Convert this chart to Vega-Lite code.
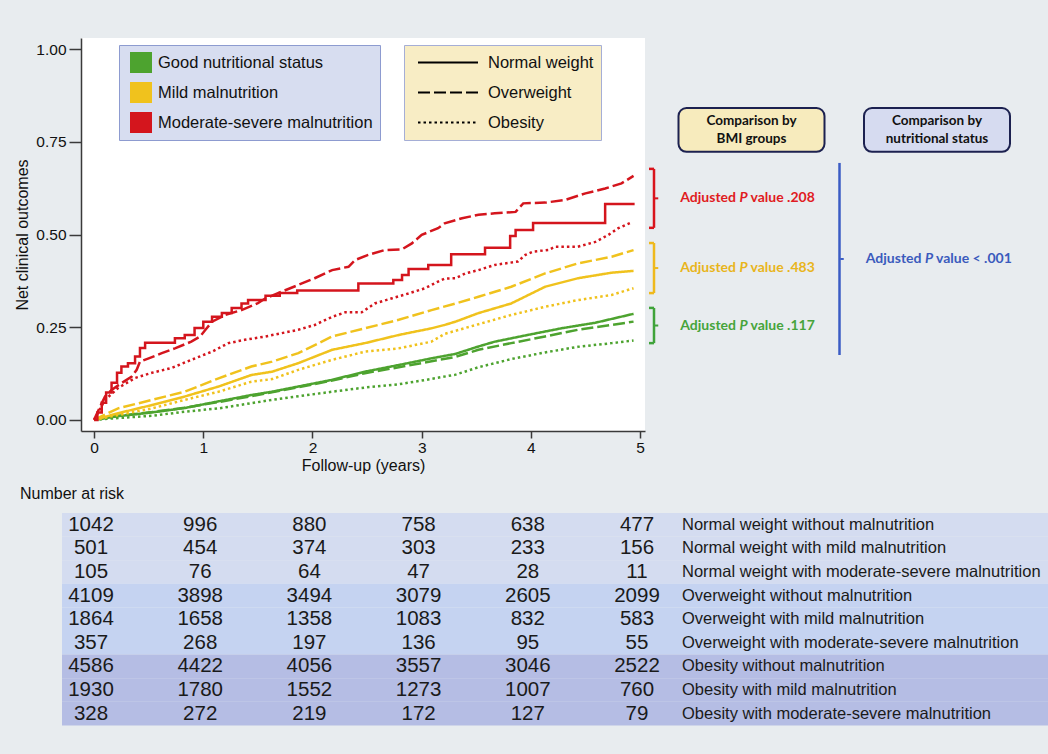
{
  "$schema": "https://vega.github.io/schema/vega-lite/v6.json",
  "background": "#e8ecef",
  "padding": {"left": 14, "top": 38, "right": 0, "bottom": 29},
  "autosize": {"type": "pad"},
  "config": {
    "view": {"stroke": null},
    "font": "Liberation Sans",
    "axis": {"domainColor": "#3a3a3a", "tickColor": "#3a3a3a", "labelColor": "#111", "titleColor": "#111", "grid": false, "domainWidth": 1.5, "tickWidth": 1.5, "labelFont": "Liberation Sans", "titleFont": "Liberation Sans", "labelFontSize": 15.5, "titleFontSize": 16, "titleFontWeight": "normal"}
  },
  "datasets": {
    "curves": [
      {"bmi":"Normal weight","nutrition":"Good nutritional status","t":0,"v":0},
      {"bmi":"Normal weight","nutrition":"Good nutritional status","t":0.22,"v":0.01},
      {"bmi":"Normal weight","nutrition":"Good nutritional status","t":0.53,"v":0.02},
      {"bmi":"Normal weight","nutrition":"Good nutritional status","t":0.83,"v":0.032},
      {"bmi":"Normal weight","nutrition":"Good nutritional status","t":1.14,"v":0.05},
      {"bmi":"Normal weight","nutrition":"Good nutritional status","t":1.44,"v":0.067},
      {"bmi":"Normal weight","nutrition":"Good nutritional status","t":1.63,"v":0.076},
      {"bmi":"Normal weight","nutrition":"Good nutritional status","t":1.87,"v":0.09},
      {"bmi":"Normal weight","nutrition":"Good nutritional status","t":2.18,"v":0.108},
      {"bmi":"Normal weight","nutrition":"Good nutritional status","t":2.48,"v":0.13},
      {"bmi":"Normal weight","nutrition":"Good nutritional status","t":2.79,"v":0.148},
      {"bmi":"Normal weight","nutrition":"Good nutritional status","t":3.09,"v":0.166},
      {"bmi":"Normal weight","nutrition":"Good nutritional status","t":3.31,"v":0.178},
      {"bmi":"Normal weight","nutrition":"Good nutritional status","t":3.52,"v":0.198},
      {"bmi":"Normal weight","nutrition":"Good nutritional status","t":3.67,"v":0.211},
      {"bmi":"Normal weight","nutrition":"Good nutritional status","t":3.97,"v":0.229},
      {"bmi":"Normal weight","nutrition":"Good nutritional status","t":4.28,"v":0.247},
      {"bmi":"Normal weight","nutrition":"Good nutritional status","t":4.59,"v":0.262},
      {"bmi":"Normal weight","nutrition":"Good nutritional status","t":4.94,"v":0.286},

      {"bmi":"Overweight","nutrition":"Good nutritional status","t":0,"v":0},
      {"bmi":"Overweight","nutrition":"Good nutritional status","t":0.22,"v":0.011},
      {"bmi":"Overweight","nutrition":"Good nutritional status","t":0.53,"v":0.021},
      {"bmi":"Overweight","nutrition":"Good nutritional status","t":0.83,"v":0.033},
      {"bmi":"Overweight","nutrition":"Good nutritional status","t":1.14,"v":0.048},
      {"bmi":"Overweight","nutrition":"Good nutritional status","t":1.44,"v":0.064},
      {"bmi":"Overweight","nutrition":"Good nutritional status","t":1.87,"v":0.088},
      {"bmi":"Overweight","nutrition":"Good nutritional status","t":2.18,"v":0.106},
      {"bmi":"Overweight","nutrition":"Good nutritional status","t":2.48,"v":0.126},
      {"bmi":"Overweight","nutrition":"Good nutritional status","t":2.79,"v":0.142},
      {"bmi":"Overweight","nutrition":"Good nutritional status","t":3.09,"v":0.158},
      {"bmi":"Overweight","nutrition":"Good nutritional status","t":3.31,"v":0.17},
      {"bmi":"Overweight","nutrition":"Good nutritional status","t":3.52,"v":0.189},
      {"bmi":"Overweight","nutrition":"Good nutritional status","t":3.82,"v":0.207},
      {"bmi":"Overweight","nutrition":"Good nutritional status","t":4.13,"v":0.225},
      {"bmi":"Overweight","nutrition":"Good nutritional status","t":4.43,"v":0.243},
      {"bmi":"Overweight","nutrition":"Good nutritional status","t":4.74,"v":0.256},
      {"bmi":"Overweight","nutrition":"Good nutritional status","t":4.94,"v":0.265},

      {"bmi":"Obesity","nutrition":"Good nutritional status","t":0,"v":0},
      {"bmi":"Obesity","nutrition":"Good nutritional status","t":0.22,"v":0.005},
      {"bmi":"Obesity","nutrition":"Good nutritional status","t":0.53,"v":0.011},
      {"bmi":"Obesity","nutrition":"Good nutritional status","t":0.83,"v":0.022},
      {"bmi":"Obesity","nutrition":"Good nutritional status","t":1.14,"v":0.031},
      {"bmi":"Obesity","nutrition":"Good nutritional status","t":1.44,"v":0.045},
      {"bmi":"Obesity","nutrition":"Good nutritional status","t":1.63,"v":0.054},
      {"bmi":"Obesity","nutrition":"Good nutritional status","t":2.18,"v":0.076},
      {"bmi":"Obesity","nutrition":"Good nutritional status","t":2.5,"v":0.088},
      {"bmi":"Obesity","nutrition":"Good nutritional status","t":2.79,"v":0.096},
      {"bmi":"Obesity","nutrition":"Good nutritional status","t":3.0,"v":0.106},
      {"bmi":"Obesity","nutrition":"Good nutritional status","t":3.31,"v":0.122},
      {"bmi":"Obesity","nutrition":"Good nutritional status","t":3.52,"v":0.142},
      {"bmi":"Obesity","nutrition":"Good nutritional status","t":3.82,"v":0.164},
      {"bmi":"Obesity","nutrition":"Good nutritional status","t":4.13,"v":0.182},
      {"bmi":"Obesity","nutrition":"Good nutritional status","t":4.43,"v":0.197},
      {"bmi":"Obesity","nutrition":"Good nutritional status","t":4.74,"v":0.207},
      {"bmi":"Obesity","nutrition":"Good nutritional status","t":4.94,"v":0.214},

      {"bmi":"Normal weight","nutrition":"Mild malnutrition","t":0,"v":0},
      {"bmi":"Normal weight","nutrition":"Mild malnutrition","t":0.22,"v":0.018},
      {"bmi":"Normal weight","nutrition":"Mild malnutrition","t":0.53,"v":0.04},
      {"bmi":"Normal weight","nutrition":"Mild malnutrition","t":0.83,"v":0.063},
      {"bmi":"Normal weight","nutrition":"Mild malnutrition","t":1.14,"v":0.09},
      {"bmi":"Normal weight","nutrition":"Mild malnutrition","t":1.44,"v":0.121},
      {"bmi":"Normal weight","nutrition":"Mild malnutrition","t":1.63,"v":0.13},
      {"bmi":"Normal weight","nutrition":"Mild malnutrition","t":1.87,"v":0.153},
      {"bmi":"Normal weight","nutrition":"Mild malnutrition","t":2.18,"v":0.189},
      {"bmi":"Normal weight","nutrition":"Mild malnutrition","t":2.48,"v":0.207},
      {"bmi":"Normal weight","nutrition":"Mild malnutrition","t":2.79,"v":0.229},
      {"bmi":"Normal weight","nutrition":"Mild malnutrition","t":3.09,"v":0.247},
      {"bmi":"Normal weight","nutrition":"Mild malnutrition","t":3.21,"v":0.256},
      {"bmi":"Normal weight","nutrition":"Mild malnutrition","t":3.31,"v":0.265},
      {"bmi":"Normal weight","nutrition":"Mild malnutrition","t":3.52,"v":0.288},
      {"bmi":"Normal weight","nutrition":"Mild malnutrition","t":3.82,"v":0.314},
      {"bmi":"Normal weight","nutrition":"Mild malnutrition","t":4.13,"v":0.359},
      {"bmi":"Normal weight","nutrition":"Mild malnutrition","t":4.43,"v":0.382},
      {"bmi":"Normal weight","nutrition":"Mild malnutrition","t":4.74,"v":0.397},
      {"bmi":"Normal weight","nutrition":"Mild malnutrition","t":4.94,"v":0.402},

      {"bmi":"Overweight","nutrition":"Mild malnutrition","t":0,"v":0},
      {"bmi":"Overweight","nutrition":"Mild malnutrition","t":0.22,"v":0.031},
      {"bmi":"Overweight","nutrition":"Mild malnutrition","t":0.53,"v":0.054},
      {"bmi":"Overweight","nutrition":"Mild malnutrition","t":0.83,"v":0.076},
      {"bmi":"Overweight","nutrition":"Mild malnutrition","t":1.14,"v":0.112},
      {"bmi":"Overweight","nutrition":"Mild malnutrition","t":1.44,"v":0.144},
      {"bmi":"Overweight","nutrition":"Mild malnutrition","t":1.63,"v":0.157},
      {"bmi":"Overweight","nutrition":"Mild malnutrition","t":1.87,"v":0.18},
      {"bmi":"Overweight","nutrition":"Mild malnutrition","t":2.18,"v":0.225},
      {"bmi":"Overweight","nutrition":"Mild malnutrition","t":2.48,"v":0.247},
      {"bmi":"Overweight","nutrition":"Mild malnutrition","t":2.79,"v":0.27},
      {"bmi":"Overweight","nutrition":"Mild malnutrition","t":3.09,"v":0.296},
      {"bmi":"Overweight","nutrition":"Mild malnutrition","t":3.31,"v":0.314},
      {"bmi":"Overweight","nutrition":"Mild malnutrition","t":3.52,"v":0.332},
      {"bmi":"Overweight","nutrition":"Mild malnutrition","t":3.82,"v":0.359},
      {"bmi":"Overweight","nutrition":"Mild malnutrition","t":4.13,"v":0.395},
      {"bmi":"Overweight","nutrition":"Mild malnutrition","t":4.43,"v":0.422},
      {"bmi":"Overweight","nutrition":"Mild malnutrition","t":4.74,"v":0.44},
      {"bmi":"Overweight","nutrition":"Mild malnutrition","t":4.94,"v":0.458},

      {"bmi":"Obesity","nutrition":"Mild malnutrition","t":0,"v":0},
      {"bmi":"Obesity","nutrition":"Mild malnutrition","t":0.22,"v":0.013},
      {"bmi":"Obesity","nutrition":"Mild malnutrition","t":0.53,"v":0.031},
      {"bmi":"Obesity","nutrition":"Mild malnutrition","t":0.83,"v":0.054},
      {"bmi":"Obesity","nutrition":"Mild malnutrition","t":1.14,"v":0.076},
      {"bmi":"Obesity","nutrition":"Mild malnutrition","t":1.44,"v":0.103},
      {"bmi":"Obesity","nutrition":"Mild malnutrition","t":1.63,"v":0.11},
      {"bmi":"Obesity","nutrition":"Mild malnutrition","t":1.87,"v":0.135},
      {"bmi":"Obesity","nutrition":"Mild malnutrition","t":2.18,"v":0.162},
      {"bmi":"Obesity","nutrition":"Mild malnutrition","t":2.48,"v":0.184},
      {"bmi":"Obesity","nutrition":"Mild malnutrition","t":2.79,"v":0.193},
      {"bmi":"Obesity","nutrition":"Mild malnutrition","t":3.09,"v":0.211},
      {"bmi":"Obesity","nutrition":"Mild malnutrition","t":3.21,"v":0.232},
      {"bmi":"Obesity","nutrition":"Mild malnutrition","t":3.52,"v":0.258},
      {"bmi":"Obesity","nutrition":"Mild malnutrition","t":3.82,"v":0.283},
      {"bmi":"Obesity","nutrition":"Mild malnutrition","t":4.13,"v":0.305},
      {"bmi":"Obesity","nutrition":"Mild malnutrition","t":4.43,"v":0.323},
      {"bmi":"Obesity","nutrition":"Mild malnutrition","t":4.74,"v":0.337},
      {"bmi":"Obesity","nutrition":"Mild malnutrition","t":4.94,"v":0.355},

      {"bmi":"Overweight","nutrition":"Moderate-severe malnutrition","t":0,"v":0},
      {"bmi":"Overweight","nutrition":"Moderate-severe malnutrition","t":0.055,"v":0.036},
      {"bmi":"Overweight","nutrition":"Moderate-severe malnutrition","t":0.1,"v":0.063},
      {"bmi":"Overweight","nutrition":"Moderate-severe malnutrition","t":0.16,"v":0.081},
      {"bmi":"Overweight","nutrition":"Moderate-severe malnutrition","t":0.25,"v":0.099},
      {"bmi":"Overweight","nutrition":"Moderate-severe malnutrition","t":0.345,"v":0.117},
      {"bmi":"Overweight","nutrition":"Moderate-severe malnutrition","t":0.39,"v":0.135},
      {"bmi":"Overweight","nutrition":"Moderate-severe malnutrition","t":0.42,"v":0.157},
      {"bmi":"Overweight","nutrition":"Moderate-severe malnutrition","t":0.5,"v":0.166},
      {"bmi":"Overweight","nutrition":"Moderate-severe malnutrition","t":0.62,"v":0.18},
      {"bmi":"Overweight","nutrition":"Moderate-severe malnutrition","t":0.74,"v":0.193},
      {"bmi":"Overweight","nutrition":"Moderate-severe malnutrition","t":0.89,"v":0.211},
      {"bmi":"Overweight","nutrition":"Moderate-severe malnutrition","t":0.97,"v":0.225},
      {"bmi":"Overweight","nutrition":"Moderate-severe malnutrition","t":1.02,"v":0.243},
      {"bmi":"Overweight","nutrition":"Moderate-severe malnutrition","t":1.08,"v":0.265},
      {"bmi":"Overweight","nutrition":"Moderate-severe malnutrition","t":1.2,"v":0.283},
      {"bmi":"Overweight","nutrition":"Moderate-severe malnutrition","t":1.35,"v":0.296},
      {"bmi":"Overweight","nutrition":"Moderate-severe malnutrition","t":1.5,"v":0.315},
      {"bmi":"Overweight","nutrition":"Moderate-severe malnutrition","t":1.57,"v":0.328},
      {"bmi":"Overweight","nutrition":"Moderate-severe malnutrition","t":1.72,"v":0.346},
      {"bmi":"Overweight","nutrition":"Moderate-severe malnutrition","t":1.87,"v":0.364},
      {"bmi":"Overweight","nutrition":"Moderate-severe malnutrition","t":2.02,"v":0.382},
      {"bmi":"Overweight","nutrition":"Moderate-severe malnutrition","t":2.18,"v":0.404},
      {"bmi":"Overweight","nutrition":"Moderate-severe malnutrition","t":2.33,"v":0.413},
      {"bmi":"Overweight","nutrition":"Moderate-severe malnutrition","t":2.39,"v":0.431},
      {"bmi":"Overweight","nutrition":"Moderate-severe malnutrition","t":2.51,"v":0.445},
      {"bmi":"Overweight","nutrition":"Moderate-severe malnutrition","t":2.66,"v":0.458},
      {"bmi":"Overweight","nutrition":"Moderate-severe malnutrition","t":2.82,"v":0.46},
      {"bmi":"Overweight","nutrition":"Moderate-severe malnutrition","t":2.91,"v":0.476},
      {"bmi":"Overweight","nutrition":"Moderate-severe malnutrition","t":3.0,"v":0.499},
      {"bmi":"Overweight","nutrition":"Moderate-severe malnutrition","t":3.15,"v":0.517},
      {"bmi":"Overweight","nutrition":"Moderate-severe malnutrition","t":3.21,"v":0.53},
      {"bmi":"Overweight","nutrition":"Moderate-severe malnutrition","t":3.37,"v":0.544},
      {"bmi":"Overweight","nutrition":"Moderate-severe malnutrition","t":3.52,"v":0.553},
      {"bmi":"Overweight","nutrition":"Moderate-severe malnutrition","t":3.67,"v":0.557},
      {"bmi":"Overweight","nutrition":"Moderate-severe malnutrition","t":3.86,"v":0.561},
      {"bmi":"Overweight","nutrition":"Moderate-severe malnutrition","t":3.93,"v":0.584},
      {"bmi":"Overweight","nutrition":"Moderate-severe malnutrition","t":4.13,"v":0.586},
      {"bmi":"Overweight","nutrition":"Moderate-severe malnutrition","t":4.31,"v":0.593},
      {"bmi":"Overweight","nutrition":"Moderate-severe malnutrition","t":4.5,"v":0.611},
      {"bmi":"Overweight","nutrition":"Moderate-severe malnutrition","t":4.68,"v":0.624},
      {"bmi":"Overweight","nutrition":"Moderate-severe malnutrition","t":4.83,"v":0.638},
      {"bmi":"Overweight","nutrition":"Moderate-severe malnutrition","t":4.88,"v":0.647},
      {"bmi":"Overweight","nutrition":"Moderate-severe malnutrition","t":4.94,"v":0.658},

      {"bmi":"Obesity","nutrition":"Moderate-severe malnutrition","t":0,"v":0},
      {"bmi":"Obesity","nutrition":"Moderate-severe malnutrition","t":0.1,"v":0.054},
      {"bmi":"Obesity","nutrition":"Moderate-severe malnutrition","t":0.22,"v":0.086},
      {"bmi":"Obesity","nutrition":"Moderate-severe malnutrition","t":0.375,"v":0.113},
      {"bmi":"Obesity","nutrition":"Moderate-severe malnutrition","t":0.53,"v":0.127},
      {"bmi":"Obesity","nutrition":"Moderate-severe malnutrition","t":0.71,"v":0.14},
      {"bmi":"Obesity","nutrition":"Moderate-severe malnutrition","t":0.89,"v":0.162},
      {"bmi":"Obesity","nutrition":"Moderate-severe malnutrition","t":1.08,"v":0.184},
      {"bmi":"Obesity","nutrition":"Moderate-severe malnutrition","t":1.23,"v":0.207},
      {"bmi":"Obesity","nutrition":"Moderate-severe malnutrition","t":1.38,"v":0.216},
      {"bmi":"Obesity","nutrition":"Moderate-severe malnutrition","t":1.57,"v":0.225},
      {"bmi":"Obesity","nutrition":"Moderate-severe malnutrition","t":1.72,"v":0.234},
      {"bmi":"Obesity","nutrition":"Moderate-severe malnutrition","t":1.87,"v":0.243},
      {"bmi":"Obesity","nutrition":"Moderate-severe malnutrition","t":2.02,"v":0.256},
      {"bmi":"Obesity","nutrition":"Moderate-severe malnutrition","t":2.18,"v":0.278},
      {"bmi":"Obesity","nutrition":"Moderate-severe malnutrition","t":2.3,"v":0.29},
      {"bmi":"Obesity","nutrition":"Moderate-severe malnutrition","t":2.45,"v":0.29},
      {"bmi":"Obesity","nutrition":"Moderate-severe malnutrition","t":2.57,"v":0.314},
      {"bmi":"Obesity","nutrition":"Moderate-severe malnutrition","t":2.73,"v":0.328},
      {"bmi":"Obesity","nutrition":"Moderate-severe malnutrition","t":2.88,"v":0.341},
      {"bmi":"Obesity","nutrition":"Moderate-severe malnutrition","t":3.03,"v":0.355},
      {"bmi":"Obesity","nutrition":"Moderate-severe malnutrition","t":3.15,"v":0.373},
      {"bmi":"Obesity","nutrition":"Moderate-severe malnutrition","t":3.21,"v":0.381},
      {"bmi":"Obesity","nutrition":"Moderate-severe malnutrition","t":3.31,"v":0.382},
      {"bmi":"Obesity","nutrition":"Moderate-severe malnutrition","t":3.4,"v":0.395},
      {"bmi":"Obesity","nutrition":"Moderate-severe malnutrition","t":3.52,"v":0.404},
      {"bmi":"Obesity","nutrition":"Moderate-severe malnutrition","t":3.67,"v":0.418},
      {"bmi":"Obesity","nutrition":"Moderate-severe malnutrition","t":3.88,"v":0.427},
      {"bmi":"Obesity","nutrition":"Moderate-severe malnutrition","t":3.95,"v":0.445},
      {"bmi":"Obesity","nutrition":"Moderate-severe malnutrition","t":4.02,"v":0.454},
      {"bmi":"Obesity","nutrition":"Moderate-severe malnutrition","t":4.16,"v":0.458},
      {"bmi":"Obesity","nutrition":"Moderate-severe malnutrition","t":4.22,"v":0.467},
      {"bmi":"Obesity","nutrition":"Moderate-severe malnutrition","t":4.43,"v":0.467},
      {"bmi":"Obesity","nutrition":"Moderate-severe malnutrition","t":4.59,"v":0.48},
      {"bmi":"Obesity","nutrition":"Moderate-severe malnutrition","t":4.71,"v":0.499},
      {"bmi":"Obesity","nutrition":"Moderate-severe malnutrition","t":4.8,"v":0.517},
      {"bmi":"Obesity","nutrition":"Moderate-severe malnutrition","t":4.93,"v":0.534}
    ],
    "stepcurve": [
      {"bmi":"Normal weight","nutrition":"Moderate-severe malnutrition","t":0,"v":0},
      {"bmi":"Normal weight","nutrition":"Moderate-severe malnutrition","t":0.03,"v":0.02},
      {"bmi":"Normal weight","nutrition":"Moderate-severe malnutrition","t":0.07,"v":0.046},
      {"bmi":"Normal weight","nutrition":"Moderate-severe malnutrition","t":0.11,"v":0.074},
      {"bmi":"Normal weight","nutrition":"Moderate-severe malnutrition","t":0.16,"v":0.1},
      {"bmi":"Normal weight","nutrition":"Moderate-severe malnutrition","t":0.21,"v":0.127},
      {"bmi":"Normal weight","nutrition":"Moderate-severe malnutrition","t":0.25,"v":0.144},
      {"bmi":"Normal weight","nutrition":"Moderate-severe malnutrition","t":0.31,"v":0.153},
      {"bmi":"Normal weight","nutrition":"Moderate-severe malnutrition","t":0.375,"v":0.171},
      {"bmi":"Normal weight","nutrition":"Moderate-severe malnutrition","t":0.42,"v":0.194},
      {"bmi":"Normal weight","nutrition":"Moderate-severe malnutrition","t":0.467,"v":0.208},
      {"bmi":"Normal weight","nutrition":"Moderate-severe malnutrition","t":0.74,"v":0.22},
      {"bmi":"Normal weight","nutrition":"Moderate-severe malnutrition","t":0.83,"v":0.229},
      {"bmi":"Normal weight","nutrition":"Moderate-severe malnutrition","t":0.92,"v":0.248},
      {"bmi":"Normal weight","nutrition":"Moderate-severe malnutrition","t":1.0,"v":0.265},
      {"bmi":"Normal weight","nutrition":"Moderate-severe malnutrition","t":1.08,"v":0.278},
      {"bmi":"Normal weight","nutrition":"Moderate-severe malnutrition","t":1.17,"v":0.288},
      {"bmi":"Normal weight","nutrition":"Moderate-severe malnutrition","t":1.26,"v":0.302},
      {"bmi":"Normal weight","nutrition":"Moderate-severe malnutrition","t":1.35,"v":0.314},
      {"bmi":"Normal weight","nutrition":"Moderate-severe malnutrition","t":1.41,"v":0.323},
      {"bmi":"Normal weight","nutrition":"Moderate-severe malnutrition","t":1.57,"v":0.335},
      {"bmi":"Normal weight","nutrition":"Moderate-severe malnutrition","t":1.7,"v":0.342},
      {"bmi":"Normal weight","nutrition":"Moderate-severe malnutrition","t":1.86,"v":0.349},
      {"bmi":"Normal weight","nutrition":"Moderate-severe malnutrition","t":2.42,"v":0.368},
      {"bmi":"Normal weight","nutrition":"Moderate-severe malnutrition","t":2.74,"v":0.377},
      {"bmi":"Normal weight","nutrition":"Moderate-severe malnutrition","t":2.82,"v":0.391},
      {"bmi":"Normal weight","nutrition":"Moderate-severe malnutrition","t":2.88,"v":0.407},
      {"bmi":"Normal weight","nutrition":"Moderate-severe malnutrition","t":3.06,"v":0.418},
      {"bmi":"Normal weight","nutrition":"Moderate-severe malnutrition","t":3.27,"v":0.447},
      {"bmi":"Normal weight","nutrition":"Moderate-severe malnutrition","t":3.58,"v":0.464},
      {"bmi":"Normal weight","nutrition":"Moderate-severe malnutrition","t":3.81,"v":0.496},
      {"bmi":"Normal weight","nutrition":"Moderate-severe malnutrition","t":3.86,"v":0.512},
      {"bmi":"Normal weight","nutrition":"Moderate-severe malnutrition","t":4.02,"v":0.531},
      {"bmi":"Normal weight","nutrition":"Moderate-severe malnutrition","t":4.68,"v":0.582},
      {"bmi":"Normal weight","nutrition":"Moderate-severe malnutrition","t":4.95,"v":0.582}
    ],
    "headings": [
      {"comparison":"BMI groups","heading":["Comparison by","BMI groups"]},
      {"comparison":"nutritional status","heading":["Comparison by","nutritional status"]}
    ],
    "pvalues": [
      {"comparison":"BMI groups","group":"Moderate-severe malnutrition","lo":0.518,"hi":0.677,"p":".208"},
      {"comparison":"BMI groups","group":"Mild malnutrition","lo":0.342,"hi":0.477,"p":".483"},
      {"comparison":"BMI groups","group":"Good nutritional status","lo":0.207,"hi":0.302,"p":".117"},
      {"comparison":"nutritional status","group":"All nutritional groups","lo":0.175,"hi":0.693,"p":"< .001"}
    ],
    "groups": [
      {"group":"Normal weight without malnutrition","bmi":"Normal weight"},
      {"group":"Normal weight with mild malnutrition","bmi":"Normal weight"},
      {"group":"Normal weight with moderate-severe malnutrition","bmi":"Normal weight"},
      {"group":"Overweight without malnutrition","bmi":"Overweight"},
      {"group":"Overweight with mild malnutrition","bmi":"Overweight"},
      {"group":"Overweight with moderate-severe malnutrition","bmi":"Overweight"},
      {"group":"Obesity without malnutrition","bmi":"Obesity"},
      {"group":"Obesity with mild malnutrition","bmi":"Obesity"},
      {"group":"Obesity with moderate-severe malnutrition","bmi":"Obesity"}
    ],
    "risk": [
      {"group":"Normal weight without malnutrition","t":0,"n":1042},
      {"group":"Normal weight without malnutrition","t":1,"n":996},
      {"group":"Normal weight without malnutrition","t":2,"n":880},
      {"group":"Normal weight without malnutrition","t":3,"n":758},
      {"group":"Normal weight without malnutrition","t":4,"n":638},
      {"group":"Normal weight without malnutrition","t":5,"n":477},
      {"group":"Normal weight with mild malnutrition","t":0,"n":501},
      {"group":"Normal weight with mild malnutrition","t":1,"n":454},
      {"group":"Normal weight with mild malnutrition","t":2,"n":374},
      {"group":"Normal weight with mild malnutrition","t":3,"n":303},
      {"group":"Normal weight with mild malnutrition","t":4,"n":233},
      {"group":"Normal weight with mild malnutrition","t":5,"n":156},
      {"group":"Normal weight with moderate-severe malnutrition","t":0,"n":105},
      {"group":"Normal weight with moderate-severe malnutrition","t":1,"n":76},
      {"group":"Normal weight with moderate-severe malnutrition","t":2,"n":64},
      {"group":"Normal weight with moderate-severe malnutrition","t":3,"n":47},
      {"group":"Normal weight with moderate-severe malnutrition","t":4,"n":28},
      {"group":"Normal weight with moderate-severe malnutrition","t":5,"n":11},
      {"group":"Overweight without malnutrition","t":0,"n":4109},
      {"group":"Overweight without malnutrition","t":1,"n":3898},
      {"group":"Overweight without malnutrition","t":2,"n":3494},
      {"group":"Overweight without malnutrition","t":3,"n":3079},
      {"group":"Overweight without malnutrition","t":4,"n":2605},
      {"group":"Overweight without malnutrition","t":5,"n":2099},
      {"group":"Overweight with mild malnutrition","t":0,"n":1864},
      {"group":"Overweight with mild malnutrition","t":1,"n":1658},
      {"group":"Overweight with mild malnutrition","t":2,"n":1358},
      {"group":"Overweight with mild malnutrition","t":3,"n":1083},
      {"group":"Overweight with mild malnutrition","t":4,"n":832},
      {"group":"Overweight with mild malnutrition","t":5,"n":583},
      {"group":"Overweight with moderate-severe malnutrition","t":0,"n":357},
      {"group":"Overweight with moderate-severe malnutrition","t":1,"n":268},
      {"group":"Overweight with moderate-severe malnutrition","t":2,"n":197},
      {"group":"Overweight with moderate-severe malnutrition","t":3,"n":136},
      {"group":"Overweight with moderate-severe malnutrition","t":4,"n":95},
      {"group":"Overweight with moderate-severe malnutrition","t":5,"n":55},
      {"group":"Obesity without malnutrition","t":0,"n":4586},
      {"group":"Obesity without malnutrition","t":1,"n":4422},
      {"group":"Obesity without malnutrition","t":2,"n":4056},
      {"group":"Obesity without malnutrition","t":3,"n":3557},
      {"group":"Obesity without malnutrition","t":4,"n":3046},
      {"group":"Obesity without malnutrition","t":5,"n":2522},
      {"group":"Obesity with mild malnutrition","t":0,"n":1930},
      {"group":"Obesity with mild malnutrition","t":1,"n":1780},
      {"group":"Obesity with mild malnutrition","t":2,"n":1552},
      {"group":"Obesity with mild malnutrition","t":3,"n":1273},
      {"group":"Obesity with mild malnutrition","t":4,"n":1007},
      {"group":"Obesity with mild malnutrition","t":5,"n":760},
      {"group":"Obesity with moderate-severe malnutrition","t":0,"n":328},
      {"group":"Obesity with moderate-severe malnutrition","t":1,"n":272},
      {"group":"Obesity with moderate-severe malnutrition","t":2,"n":219},
      {"group":"Obesity with moderate-severe malnutrition","t":3,"n":172},
      {"group":"Obesity with moderate-severe malnutrition","t":4,"n":127},
      {"group":"Obesity with moderate-severe malnutrition","t":5,"n":79}
    ]
  },
  "bounds": "flush",
  "spacing": 475,
  "vconcat": [
    {
      "bounds": "flush",
      "spacing": 0,
      "hconcat": [
        {
          "width": 564,
          "height": 393,
          "view": {"fill": "white", "stroke": null},
          "encoding": {
            "x": {"field": "t", "type": "quantitative", "scale": {"domain": [-0.12, 5.045], "nice": false, "zero": false},
                  "axis": {"values": [0, 1, 2, 3, 4, 5], "format": "d", "title": "Follow-up (years)", "tickSize": 7, "labelPadding": 2, "titleY": 34, "titleBaseline": "middle"}},
            "y": {"field": "v", "type": "quantitative", "scale": {"domain": [-0.03, 1.03], "nice": false, "zero": false},
                  "axis": {"values": [0, 0.25, 0.5, 0.75, 1], "format": ".2f", "title": "Net clinical outcomes", "tickSize": 12, "labelPadding": 3, "titleX": -59, "titleY": 196.5, "titleAngle": 270, "titleBaseline": "middle", "titleAlign": "center"}},
            "color": {"field": "nutrition", "type": "nominal",
                      "scale": {"domain": ["Good nutritional status", "Mild malnutrition", "Moderate-severe malnutrition"], "range": ["#4da32f", "#f0c21d", "#d4151d"]},
                      "legend": {"title": null, "orient": "none", "legendX": 38, "legendY": 7, "direction": "vertical", "fillColor": "#d7ddf0", "strokeColor": "#8d9bd0", "padding": 7, "symbolType": "square", "symbolSize": 441, "clipHeight": 21, "rowPadding": 9, "symbolOffset": 4, "labelOffset": 6, "labelFontSize": 16.5, "labelFont": "Liberation Sans", "labelColor": "#111", "labelLimit": 400,
                                 "encode": {"symbols": {"update": {"fill": {"scale": "color", "field": "value"}, "stroke": {"value": "#7f8cc0"}, "strokeWidth": {"value": 1}, "strokeDash": {"value": [1, 0]}, "opacity": {"value": 1}}}}}},
            "strokeDash": {"field": "bmi", "type": "nominal",
                           "scale": {"domain": ["Normal weight", "Overweight", "Obesity"], "range": [[1, 0], [12, 4], [2.5, 3]]},
                           "legend": {"title": null, "orient": "none", "legendX": 323, "legendY": 7, "direction": "vertical", "fillColor": "#f8edc5", "strokeColor": "#a5aed6", "padding": 7, "symbolType": "stroke", "symbolSize": 3600, "clipHeight": 21, "rowPadding": 9, "symbolOffset": 6, "labelOffset": 9, "symbolStrokeColor": "#000", "symbolStrokeWidth": 2, "labelFontSize": 16.5, "labelFont": "Liberation Sans", "labelColor": "#111", "labelLimit": 400,
                                      "encode": {"symbols": {"update": {"stroke": {"value": "#000"}, "strokeWidth": {"value": 2}, "opacity": {"value": 1}}}}}}
          },
          "layer": [
            {"data": {"name": "curves"}, "mark": {"type": "line", "strokeWidth": 2.5, "strokeCap": "butt"}},
            {"data": {"name": "stepcurve"}, "mark": {"type": "line", "strokeWidth": 2.5, "interpolate": "step-after"}}
          ]
        },
        {
          "width": 397,
          "height": 393,
          "view": {"stroke": null},
          "encoding": {
            "x": {"field": "comparison", "type": "nominal", "scale": {"type": "point", "domain": ["BMI groups", "nutritional status"], "range": [98.5, 284], "padding": 0}, "axis": null}
          },
          "layer": [
            {
              "data": {"name": "headings"},
              "mark": {"type": "rect", "width": 146, "xOffset": 8, "cornerRadius": 8, "stroke": "#1c2150", "strokeWidth": 2},
              "encoding": {
                "y": {"datum": 0.841, "type": "quantitative", "scale": {"domain": [-0.03, 1.03], "nice": false, "zero": false}, "axis": null},
                "y2": {"datum": 0.723},
                "fill": {"condition": {"test": "datum.comparison === 'BMI groups'", "value": "#f7ebbd"}, "value": "#d6dbf0"}
              }
            },
            {
              "data": {"name": "headings"},
              "mark": {"type": "text", "font": "Lato", "fontWeight": "bold", "fontSize": 13.5, "lineHeight": 18, "baseline": "middle", "dx": 8, "dy": -9, "color": "#111"},
              "encoding": {
                "y": {"datum": 0.782, "type": "quantitative"},
                "text": {"field": "heading"}
              }
            },
            {
              "data": {"name": "pvalues"},
              "mark": {"type": "rule", "strokeWidth": 2.5, "xOffset": -89.5},
              "encoding": {
                "y": {"field": "lo", "type": "quantitative"},
                "y2": {"field": "hi"},
                "color": {"condition": [{"test": "datum.group === 'Moderate-severe malnutrition'", "value": "#d9141c"}, {"test": "datum.group === 'Mild malnutrition'", "value": "#efb91c"}, {"test": "datum.group === 'Good nutritional status'", "value": "#3fa33a"}], "value": "#3b5cc4"}
              }
            },
            {
              "data": {"name": "pvalues"},
              "transform": [{"filter": "datum.comparison === 'BMI groups'"}],
              "mark": {"type": "tick", "orient": "horizontal", "size": 5, "thickness": 2.5, "xOffset": -92, "opacity": 1},
              "encoding": {
                "y": {"field": "hi", "type": "quantitative"},
                "color": {"condition": [{"test": "datum.group === 'Moderate-severe malnutrition'", "value": "#d9141c"}, {"test": "datum.group === 'Mild malnutrition'", "value": "#efb91c"}, {"test": "datum.group === 'Good nutritional status'", "value": "#3fa33a"}], "value": "#3b5cc4"}
              }
            },
            {
              "data": {"name": "pvalues"},
              "transform": [{"filter": "datum.comparison === 'BMI groups'"}],
              "mark": {"type": "tick", "orient": "horizontal", "size": 5, "thickness": 2.5, "xOffset": -92, "opacity": 1},
              "encoding": {
                "y": {"field": "lo", "type": "quantitative"},
                "color": {"condition": [{"test": "datum.group === 'Moderate-severe malnutrition'", "value": "#d9141c"}, {"test": "datum.group === 'Mild malnutrition'", "value": "#efb91c"}, {"test": "datum.group === 'Good nutritional status'", "value": "#3fa33a"}], "value": "#3b5cc4"}
              }
            },
            {
              "data": {"name": "pvalues"},
              "transform": [{"calculate": "(datum.lo + datum.hi) / 2", "as": "mid"}],
              "mark": {"type": "tick", "orient": "horizontal", "size": 3.5, "thickness": 2, "xOffset": -87, "opacity": 1},
              "encoding": {
                "y": {"field": "mid", "type": "quantitative"},
                "color": {"condition": [{"test": "datum.group === 'Moderate-severe malnutrition'", "value": "#d9141c"}, {"test": "datum.group === 'Mild malnutrition'", "value": "#efb91c"}, {"test": "datum.group === 'Good nutritional status'", "value": "#3fa33a"}], "value": "#3b5cc4"}
              }
            },
            {
              "data": {"name": "pvalues"},
              "transform": [{"calculate": "(datum.lo + datum.hi) / 2", "as": "mid"}],
              "mark": {"type": "text", "font": "Lato", "fontWeight": "bold", "fontSize": 14, "align": "right", "baseline": "middle", "dx": -7.5},
              "encoding": {
                "y": {"field": "mid", "type": "quantitative"},
                "text": {"value": "Adjusted"},
                "color": {"condition": [{"test": "datum.group === 'Moderate-severe malnutrition'", "value": "#e01b22"}, {"test": "datum.group === 'Mild malnutrition'", "value": "#e8b51c"}, {"test": "datum.group === 'Good nutritional status'", "value": "#46a43b"}], "value": "#3b5bbd"}
              }
            },
            {
              "data": {"name": "pvalues"},
              "transform": [{"calculate": "(datum.lo + datum.hi) / 2", "as": "mid"}],
              "mark": {"type": "text", "font": "Lato", "fontWeight": "bold", "fontStyle": "italic", "fontSize": 14, "align": "center", "baseline": "middle"},
              "encoding": {
                "y": {"field": "mid", "type": "quantitative"},
                "text": {"value": "P"},
                "color": {"condition": [{"test": "datum.group === 'Moderate-severe malnutrition'", "value": "#e01b22"}, {"test": "datum.group === 'Mild malnutrition'", "value": "#e8b51c"}, {"test": "datum.group === 'Good nutritional status'", "value": "#46a43b"}], "value": "#3b5bbd"}
              }
            },
            {
              "data": {"name": "pvalues"},
              "transform": [{"calculate": "(datum.lo + datum.hi) / 2", "as": "mid"}, {"calculate": "'value ' + datum.p", "as": "label"}],
              "mark": {"type": "text", "font": "Lato", "fontWeight": "bold", "fontSize": 14, "align": "left", "baseline": "middle", "dx": 7},
              "encoding": {
                "y": {"field": "mid", "type": "quantitative"},
                "text": {"field": "label"},
                "color": {"condition": [{"test": "datum.group === 'Moderate-severe malnutrition'", "value": "#e01b22"}, {"test": "datum.group === 'Mild malnutrition'", "value": "#e8b51c"}, {"test": "datum.group === 'Good nutritional status'", "value": "#46a43b"}], "value": "#3b5bbd"}
              }
            }
          ]
        }
      ]
    },
    {
      "width": 967,
      "height": 212.4,
      "view": {"stroke": null},
      "title": {"text": "Number at risk", "anchor": "start", "frame": "group", "dx": -61, "offset": 3, "baseline": "middle", "fontSize": 16, "fontWeight": "normal", "font": "Liberation Sans", "color": "#111"},
      "encoding": {
        "y": {"field": "group", "type": "nominal", "axis": null,
              "scale": {"domain": ["Normal weight without malnutrition", "Normal weight with mild malnutrition", "Normal weight with moderate-severe malnutrition", "Overweight without malnutrition", "Overweight with mild malnutrition", "Overweight with moderate-severe malnutrition", "Obesity without malnutrition", "Obesity with mild malnutrition", "Obesity with moderate-severe malnutrition"], "paddingInner": 0, "paddingOuter": 0}}
      },
      "layer": [
        {
          "data": {"name": "groups"},
          "mark": {"type": "rect"},
          "encoding": {
            "x": {"datum": -0.2656, "type": "quantitative", "scale": {"domain": [-0.0916, 8.7637], "nice": false, "zero": false}, "axis": null},
            "x2": {"datum": 8.7637},
            "fill": {"condition": [{"test": "datum.bmi === 'Normal weight'", "value": "#d4dcf0"}, {"test": "datum.bmi === 'Overweight'", "value": "#c5d3f1"}], "value": "#b5bde4"}
          }
        },
        {
          "data": {"name": "risk"},
          "mark": {"type": "text", "fontSize": 20.5, "baseline": "middle", "align": "center", "color": "#1a1a1a", "font": "Liberation Sans"},
          "encoding": {
            "x": {"field": "t", "type": "quantitative"},
            "text": {"field": "n", "type": "quantitative", "format": "d"}
          }
        },
        {
          "data": {"name": "groups"},
          "mark": {"type": "text", "fontSize": 16.5, "baseline": "middle", "align": "left", "dx": 45, "color": "#1a1a1a", "font": "Liberation Sans"},
          "encoding": {
            "x": {"datum": 5, "type": "quantitative"},
            "text": {"field": "group"}
          }
        }
      ]
    }
  ]
}
